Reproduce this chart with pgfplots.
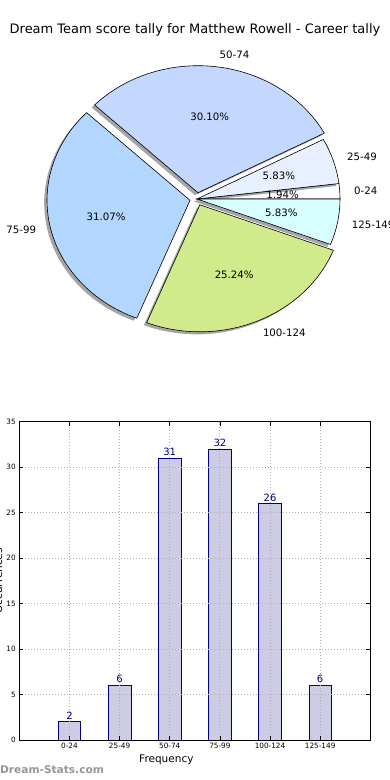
\documentclass[border=0pt]{standalone}
\usepackage{pgfplots}
\pgfplotsset{compat=1.18}
\usepackage{pgfplotstable}
\usepackage{fontspec}
\setmainfont{DejaVu Sans}

\definecolor{pie0}{RGB}{255,255,255}
\definecolor{pie1}{RGB}{232,240,255}
\definecolor{pie2}{RGB}{196,216,255}
\definecolor{pie3}{RGB}{179,214,255}
\definecolor{pie4}{RGB}{208,234,140}
\definecolor{pie5}{RGB}{216,255,255}
\definecolor{barfill}{RGB}{204,204,228}
\definecolor{baredge}{RGB}{0,0,128}
\definecolor{wm}{RGB}{150,150,150}
\definecolor{gridc}{RGB}{176,176,176}

\pgfplotstableread{
label value explode pos
0-24 2 0 1
25-49 6 0 2
50-74 31 0.05 3
75-99 32 0.05 4
100-124 26 0.05 5
125-149 6 0 6
}\piedata

\begin{document}
\begin{tikzpicture}[x=1pt,y=1pt]
% total
\def\total{0}
\pgfplotsforeachungrouped \i in {0,...,5}{%
  \pgfplotstablegetelem{\i}{value}\of\piedata
  \pgfmathsetmacro{\total}{\total+\pgfplotsretval}}

\node[font=\fontsize{13}{15}\selectfont, inner sep=0] at (195,750) {Dream Team score tally for Matthew Rowell - Career tally};

% ---------- pie ----------
\begin{axis}[hide axis, scale only axis, width=286pt, height=254pt,
  xmin=-1, xmax=1, ymin=-1, ymax=1, clip=false,
  at={(197pt,581pt)}, anchor=center]
\xdef\startang{0}
\pgfplotsforeachungrouped \i in {0,...,5}{%
  \pgfplotstablegetelem{\i}{value}\of\piedata \let\v\pgfplotsretval
  \pgfplotstablegetelem{\i}{explode}\of\piedata \let\e\pgfplotsretval
  \pgfmathsetmacro{\endang}{\startang+360*\v/\total}
  \pgfmathsetmacro{\midang}{(\startang+\endang)/2}
  \pgfmathsetmacro{\dx}{\e*cos(\midang)}
  \pgfmathsetmacro{\dy}{\e*sin(\midang)}
  \pgfmathsetmacro{\sx}{\dx-0.02}
  \pgfmathsetmacro{\sy}{\dy-0.02}
  \edef\cmd{\noexpand\fill[black!70, opacity=0.5] (axis cs:\sx,\sy) -- ++(\startang:143pt and 127pt) arc[start angle=\startang, end angle=\endang, x radius=143pt, y radius=127pt] -- cycle;
    \noexpand\filldraw[line width=0.6pt, draw=black, fill=pie\i] (axis cs:\dx,\dy) -- ++(\startang:143pt and 127pt) arc[start angle=\startang, end angle=\endang, x radius=143pt, y radius=127pt] -- cycle;}
  \cmd
  \xdef\startang{\endang}
}
\xdef\startang{0}
\pgfplotsforeachungrouped \i in {0,...,5}{%
  \pgfplotstablegetelem{\i}{value}\of\piedata \let\v\pgfplotsretval
  \pgfplotstablegetelem{\i}{explode}\of\piedata \let\e\pgfplotsretval
  \pgfplotstablegetelem{\i}{label}\of\piedata \let\lab\pgfplotsretval
  \pgfmathsetmacro{\endang}{\startang+360*\v/\total}
  \pgfmathsetmacro{\midang}{(\startang+\endang)/2}
  \pgfmathsetmacro{\cc}{cos(\midang)}
  \pgfmathsetmacro{\ss}{sin(\midang)}
  \pgfmathsetmacro{\lx}{\e*\cc+1.1*\cc}
  \pgfmathsetmacro{\ly}{\e*\ss+1.1*\ss}
  \pgfmathsetmacro{\px}{\e*\cc+0.6*\cc}
  \pgfmathsetmacro{\py}{\e*\ss+0.6*\ss}
  \pgfmathsetmacro{\pct}{100*\v/\total}
  \pgfkeys{/pgf/number format/.cd, fixed, fixed zerofill, precision=2, assume math mode=true}
  \pgfmathprintnumberto{\pct}{\pctstr}
  \ifdim\cc pt>0pt \def\anc{west}\else\def\anc{east}\fi
  \edef\cmd{\noexpand\node[anchor=\anc, inner sep=0, font=\noexpand\fontsize{10.2}{12}\noexpand\selectfont] at (axis cs:\lx,\ly) {\unexpanded\expandafter{\lab}};
    \noexpand\node[inner sep=0, font=\noexpand\fontsize{10.2}{12}\noexpand\selectfont] at (axis cs:\px,\py) {\unexpanded\expandafter{\pctstr}\noexpand\%};}
  \cmd
  \xdef\startang{\endang}
}
\end{axis}

% ---------- bars ----------
\begin{axis}[at={(19.3pt,40pt)}, anchor=south west, scale only axis,
  width=351pt, height=318.3pt,
  xmin=0, xmax=7, ymin=0, ymax=35,
  xtick={1,...,6}, xticklabels={0-24,25-49,50-74,75-99,100-124,125-149},
  ytick={0,5,...,35},
  tick align=inside, major tick length=4pt,
  every tick/.style={black, line width=0.5pt},
  axis line style={line width=0.8pt},
  grid=major, major grid style={dash pattern=on 1pt off 2pt, color=gridc, line width=0.8pt},
  axis on top,
  tick label style={font=\fontsize{7.3}{9}\selectfont},
  /pgf/number format/assume math mode=true,
  xlabel={Frequency}, ylabel={Occurrences},
  label style={font=\fontsize{10.5}{12}\selectfont},
  xlabel style={at={(axis description cs:0.419,0)}, anchor=north, inner sep=0, yshift=-15pt},
  ylabel style={at={(axis description cs:-0.06,0.5)}, anchor=center},
  nodes near coords,
  every node near coord/.append style={font=\fontsize{10}{12}\selectfont, color=baredge, inner sep=2pt},
]
\addplot[ybar, bar width=0.45, fill=barfill, draw=baredge, line width=0.7pt] table[x=pos, y=value] {\piedata};
\end{axis}

\node[anchor=west, inner sep=0, text=wm, font=\bfseries\fontsize{10.6}{12}\selectfont] at (0,10) {Dream-Stats.com};

\pgfresetboundingbox
\path[use as bounding box] (0,0) rectangle (390,780);
\end{tikzpicture}
\end{document}
